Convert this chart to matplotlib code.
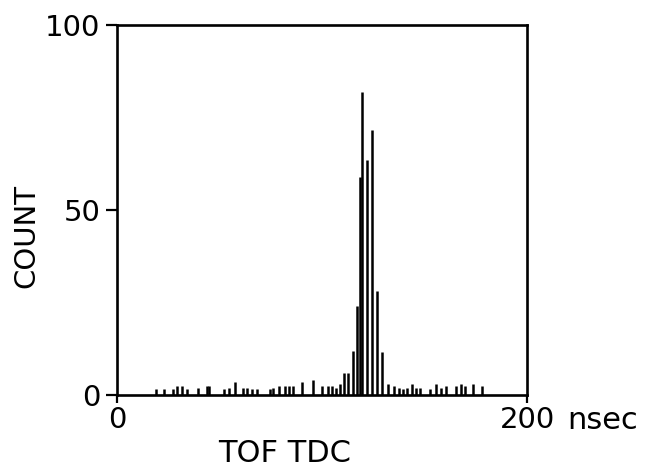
import matplotlib
matplotlib.use("Agg")
import matplotlib.pyplot as plt

# TOF TDC time (ns) of each histogram spike and its count
tof_ns = [18.9, 23.1, 27.5, 29.1, 31.9, 34.0, 39.7, 43.8, 45.0, 52.2,
          54.8, 57.7, 61.3, 63.6, 65.7, 68.1, 74.6, 76.2, 79.2, 81.95,
          84.0, 86.0, 90.4, 95.4, 100.2, 102.8, 104.7, 106.8, 109.0, 110.9,
          112.8, 115.0, 116.9, 118.5, 119.5, 121.8, 124.4, 126.7, 129.3, 132.3,
          135.1, 137.7, 139.7, 141.3, 143.8, 145.9, 147.8, 152.7, 155.6, 158.0,
          160.3, 165.4, 167.8, 169.8, 173.8, 177.9]
counts = [1.5, 1.5, 1.5, 2.5, 2.5, 1.5, 2, 2.5, 2.5, 1.5,
          2, 3.5, 2, 2, 1.5, 1.5, 1.5, 2, 2.5, 2.5,
          2.5, 2.5, 3.5, 4, 2.5, 2.5, 2.5, 2, 3, 6,
          6, 12, 24, 59, 82, 63.5, 71.5, 28, 11.5, 3,
          2.5, 2, 1.5, 2, 3, 2, 2, 1.5, 3, 2,
          2.5, 2.5, 3, 2.5, 3, 2.5]

x_ticks = [0, 200]
x_ticklabels = ["0", "200"]
y_ticks = [0, 50, 100]
y_ticklabels = ["0", "50", "100"]

plt.rcParams['font.family'] = ['DejaVu Sans']
FS = 21

fig = plt.figure(figsize=(6.5, 4.75), dpi=100)
ax = fig.add_axes([117/650, 1-395/475, 410/650, 370/475])

ax.vlines(tof_ns, 0, counts, colors='black', linewidth=1.8)

ax.set_xlim(0, 200)
ax.set_ylim(0, 100)
for s in ax.spines.values():
    s.set_linewidth(1.9)
    s.set_color('black')

ax.set_xticks(x_ticks)
ax.set_xticklabels(x_ticklabels, fontsize=FS)
ax.set_yticks(y_ticks)
ax.set_yticklabels(y_ticklabels, fontsize=FS)
ax.tick_params(axis='y', direction='out', length=8, width=1.6, pad=4)
ax.tick_params(axis='x', direction='out', length=6, width=1.6, pad=2)

ax.annotate("nsec", xy=(200, 0), xycoords='data', xytext=(29, -8),
            textcoords='offset points', ha='left', va='top', fontsize=22)

ax.text(0.41, -0.12, "TOF TDC", transform=ax.transAxes, ha='center',
        va='top', fontsize=22)
ax.text(-0.22, 0.43, "COUNT", transform=ax.transAxes, ha='center',
        va='center', rotation=90, fontsize=FS)

fig.savefig("out.png", dpi=100)
